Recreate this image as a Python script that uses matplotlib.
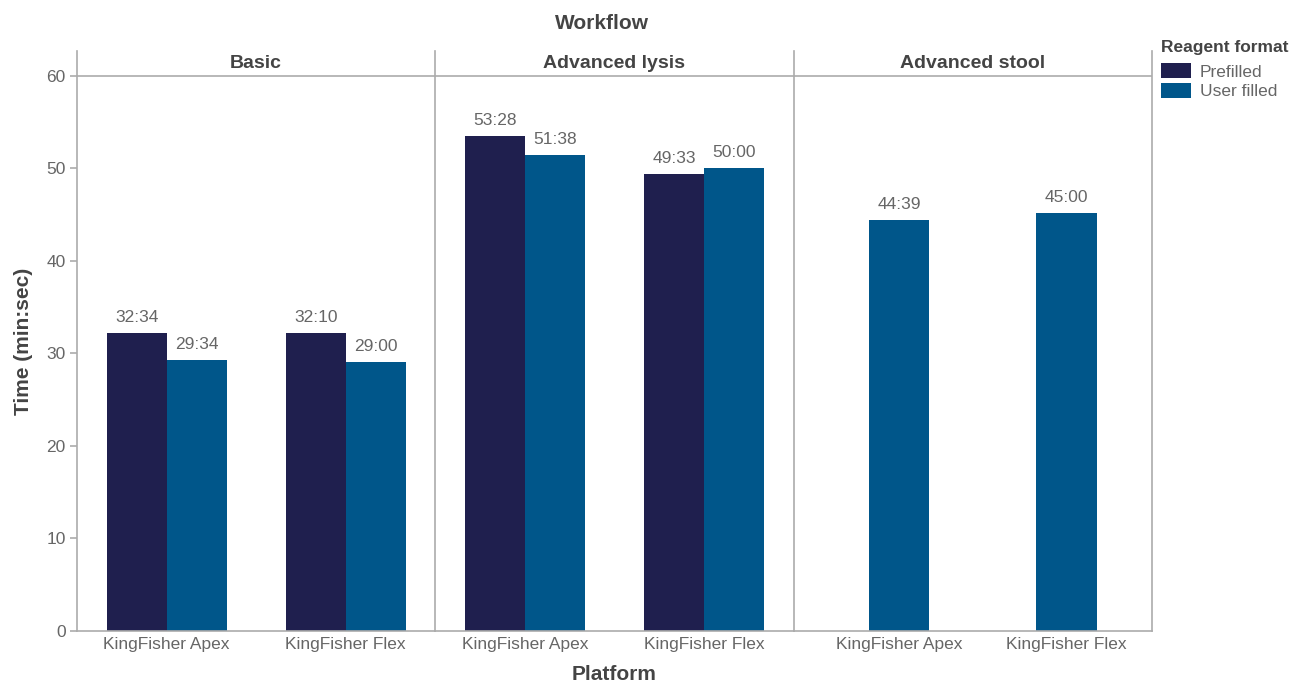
import matplotlib
matplotlib.use("Agg")
import matplotlib.pyplot as plt
from matplotlib.patches import Patch
import numpy as np

# -----------------------------
# DATA
# -----------------------------
workflows = ["Basic", "Advanced lysis", "Advanced stool"]
platforms = ["KingFisher Apex", "KingFisher Flex"]
formats = ["Prefilled", "User filled"]

# bar heights (minutes) and the printed min:sec labels, per workflow
prefilled = [[32.2, 32.2], [53.45, 49.35], None]
user_filled = [[29.25, 29.05], [51.4, 50.0], [44.35, 45.1]]
prefilled_labels = [["32:34", "32:10"], ["53:28", "49:33"], None]
user_labels = [["29:34", "29:00"], ["51:38", "50:00"], ["44:39", "45:00"]]

y_ticks = [0, 10, 20, 30, 40, 50, 60]

# -----------------------------
# STYLE
# -----------------------------
plt.rcParams["font.family"] = ["Liberation Sans", "DejaVu Sans"]
NAVY = "#1f1f4e"
BLUE = "#00568a"
GRID = "#ababab"
TICK_TXT = "#666666"
HEAD_TXT = "#444444"
colors = [NAVY, BLUE]

fig = plt.figure(figsize=(12.96, 6.83), dpi=100)
gs = fig.add_gridspec(1, 3, left=0.0594, right=0.8889, bottom=0.0761,
                      top=0.9253, wspace=0)
axes = [fig.add_subplot(gs[0, i]) for i in range(3)]

YMAX = 62.65

for i, ax in enumerate(axes):
    x = np.arange(len(platforms))
    series = [prefilled[i], user_filled[i]]
    labels = [prefilled_labels[i], user_labels[i]]
    present = [k for k, s in enumerate(series) if s is not None]

    if len(present) == 2:
        width = 0.335
        offsets = [-width / 2, width / 2]
        ax.set_xlim(-0.5, 1.5)
    else:
        width = 0.361
        offsets = [0.0, 0.0]
        ax.set_xlim(-0.63, 1.51)

    for k in present:
        xs = x + offsets[k]
        bars = ax.bar(xs, series[k], width=width, color=colors[k],
                      linewidth=0, zorder=2)
        for b, lab in zip(bars, labels[k]):
            ax.annotate(lab, (b.get_x() + b.get_width() / 2, b.get_height()),
                        xytext=(0, 6), textcoords="offset points",
                        ha="center", va="bottom", fontsize=12.5,
                        color=TICK_TXT)

    ax.set_ylim(0, YMAX)
    ax.axhline(60, color=GRID, linewidth=1.2, zorder=1)
    ax.text(np.mean(ax.get_xlim()), 61.3, workflows[i], ha="center",
            va="center", fontsize=14, fontweight="bold", color=HEAD_TXT)

    ax.set_xticks(x)
    ax.set_xticklabels(platforms, fontsize=12.5, color=TICK_TXT)
    ax.tick_params(axis="x", length=0, pad=4)

    ax.spines["top"].set_visible(False)
    for side in ["left", "right", "bottom"]:
        ax.spines[side].set_color(GRID)
        ax.spines[side].set_linewidth(1.2)
    if i < 2:
        ax.spines["right"].set_visible(False)

    if i == 0:
        ax.set_yticks(y_ticks)
        ax.set_yticklabels([str(t) for t in y_ticks], fontsize=12.5,
                           color=TICK_TXT)
        ax.tick_params(axis="y", length=5, color=GRID, width=1.2, pad=3)
        ax.set_ylabel("Time (min:sec)", fontsize=15, fontweight="bold",
                      color=HEAD_TXT, labelpad=10)
    else:
        ax.set_yticks([])

fig.text(0.474, 0.012, "Platform", ha="center", va="center", fontsize=15,
         fontweight="bold", color=HEAD_TXT)
fig.text(0.4645, 0.966, "Workflow", ha="center", va="center", fontsize=15,
         fontweight="bold", color=HEAD_TXT)

# legend
fig.text(0.8955, 0.931, "Reagent format", ha="left", va="center",
         fontsize=12.5, fontweight="bold", color=HEAD_TXT)
handles = [Patch(facecolor=c, edgecolor="none") for c in colors]
leg = fig.legend(handles, formats, loc="upper left",
                 bbox_to_anchor=(0.8955, 0.908), frameon=False,
                 fontsize=12.5, handlelength=1.75, handleheight=1.0,
                 handletextpad=0.5, labelspacing=0.17, borderpad=0,
                 borderaxespad=0)
for t in leg.get_texts():
    t.set_color(TICK_TXT)

fig.savefig("out.png", dpi=100)
